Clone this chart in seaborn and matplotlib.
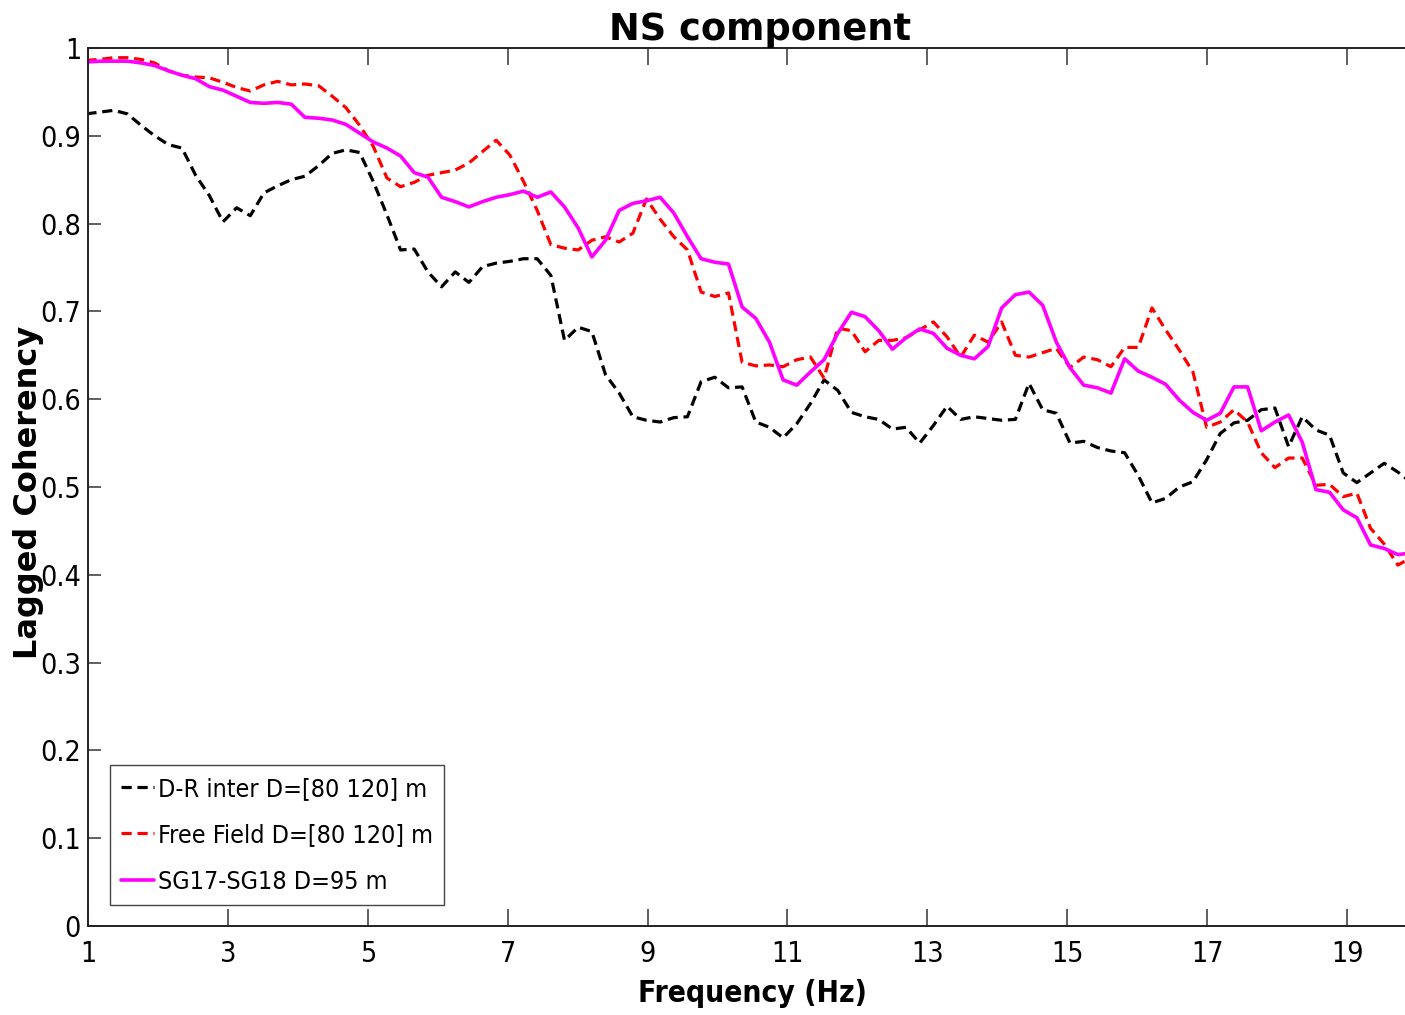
import numpy as np
import pandas as pd
import matplotlib
matplotlib.use("Agg")
import matplotlib.pyplot as plt
from matplotlib import font_manager
import seaborn as sns

# Frequency bins (Hz): FFT resolution of 100/512 Hz
freq_bins = np.arange(5, 103)
freq = freq_bins * (100 / 512)

dr_inter = [
    0.925, 0.927, 0.929, 0.925, 0.912, 0.900, 0.890, 0.886, 0.855, 0.832,
    0.802, 0.818, 0.809, 0.835, 0.843, 0.850, 0.854, 0.866, 0.880, 0.884,
    0.881, 0.848, 0.810, 0.770, 0.771, 0.745, 0.728, 0.745, 0.733, 0.751,
    0.755, 0.757, 0.760, 0.760, 0.741, 0.667, 0.682, 0.677, 0.628, 0.607,
    0.580, 0.576, 0.574, 0.579, 0.580, 0.620, 0.625, 0.613, 0.614, 0.574,
    0.568, 0.556, 0.572, 0.595, 0.622, 0.610, 0.585, 0.580, 0.577, 0.566,
    0.568, 0.550, 0.570, 0.592, 0.577, 0.580, 0.578, 0.576, 0.577, 0.618,
    0.588, 0.584, 0.550, 0.552, 0.545, 0.541, 0.539, 0.513, 0.482, 0.487,
    0.500, 0.506, 0.531, 0.561, 0.573, 0.576, 0.588, 0.590, 0.546, 0.580,
    0.565, 0.559, 0.516, 0.505, 0.516, 0.527, 0.517, 0.505,
]

free_field = [
    0.986, 0.987, 0.989, 0.989, 0.987, 0.983, 0.974, 0.969, 0.967, 0.966,
    0.961, 0.955, 0.951, 0.958, 0.962, 0.958, 0.959, 0.957, 0.945, 0.932,
    0.912, 0.888, 0.852, 0.842, 0.847, 0.855, 0.858, 0.861, 0.869, 0.882,
    0.895, 0.878, 0.848, 0.815, 0.776, 0.772, 0.770, 0.781, 0.785, 0.779,
    0.789, 0.828, 0.805, 0.785, 0.770, 0.722, 0.717, 0.721, 0.642, 0.638,
    0.639, 0.637, 0.645, 0.648, 0.624, 0.681, 0.678, 0.654, 0.667, 0.667,
    0.670, 0.679, 0.688, 0.671, 0.648, 0.673, 0.665, 0.688, 0.650, 0.648,
    0.653, 0.658, 0.636, 0.648, 0.645, 0.637, 0.659, 0.659, 0.704, 0.679,
    0.656, 0.631, 0.568, 0.574, 0.588, 0.574, 0.539, 0.522, 0.533, 0.533,
    0.502, 0.503, 0.489, 0.493, 0.453, 0.435, 0.411, 0.420,
]

sg17_sg18 = [
    0.984, 0.985, 0.985, 0.985, 0.983, 0.980, 0.974, 0.969, 0.965, 0.956,
    0.952, 0.945, 0.938, 0.937, 0.938, 0.936, 0.921, 0.920, 0.918, 0.913,
    0.903, 0.893, 0.886, 0.877, 0.858, 0.853, 0.830, 0.825, 0.819, 0.825,
    0.830, 0.833, 0.837, 0.830, 0.836, 0.819, 0.795, 0.762, 0.781, 0.815,
    0.823, 0.826, 0.830, 0.812, 0.785, 0.760, 0.756, 0.754, 0.705, 0.692,
    0.665, 0.622, 0.616, 0.631, 0.645, 0.675, 0.699, 0.694, 0.678, 0.657,
    0.670, 0.680, 0.675, 0.658, 0.650, 0.646, 0.660, 0.704, 0.719, 0.722,
    0.707, 0.665, 0.636, 0.616, 0.613, 0.607, 0.646, 0.632, 0.625, 0.617,
    0.599, 0.585, 0.576, 0.584, 0.614, 0.614, 0.564, 0.574, 0.582, 0.551,
    0.497, 0.494, 0.474, 0.465, 0.434, 0.430, 0.423, 0.425,
]

series_labels = ["D-R inter D=[80 120] m", "Free Field D=[80 120] m", "SG17-SG18 D=95 m"]
x_ticks = [1, 3, 5, 7, 9, 11, 13, 15, 17, 19]
y_ticks = [0, 0.1, 0.2, 0.3, 0.4, 0.5, 0.6, 0.7, 0.8, 0.9, 1]
y_tick_labels = ["0", "0.1", "0.2", "0.3", "0.4", "0.5", "0.6", "0.7", "0.8", "0.9", "1"]

df = pd.concat([
    pd.DataFrame({"Frequency": freq, "Coherency": vals, "Pair": lab})
    for vals, lab in zip([dr_inter, free_field, sg17_sg18], series_labels)
], ignore_index=True)

sns.set_style("white")
plt.rcParams["font.family"] = ["DejaVu Sans"]
for key in ["text.color", "axes.labelcolor", "xtick.color", "ytick.color"]:
    plt.rcParams[key] = "black"

# Condensed face for tick labels, legend and x label
narrow = font_manager.FontProperties(family="DejaVu Sans", stretch="condensed", size=20.5)
narrow_bold = font_manager.FontProperties(family="DejaVu Sans", stretch="condensed",
                                          weight="bold", size=21.5)
legend_font = font_manager.FontProperties(family="DejaVu Sans", stretch="condensed", size=18)

fig = plt.figure(figsize=(14.05, 10.15), dpi=100)
ax = fig.add_axes([88 / 1405, 89 / 1015, 1329 / 1405, 878 / 1015])

palette = {series_labels[0]: "black", series_labels[1]: "#ff0000", series_labels[2]: "#ff00ff"}
dashes = {series_labels[0]: (3.2, 1.8), series_labels[1]: (3.2, 1.8), series_labels[2]: ""}
sns.lineplot(data=df, x="Frequency", y="Coherency", hue="Pair", style="Pair",
             palette=palette, dashes=dashes, hue_order=series_labels,
             style_order=series_labels, estimator=None, sort=False,
             linewidth=2.3, legend=False, ax=ax)
lines = ax.get_lines()
lines[2].set_linewidth(2.6)

ax.set_xlim(1, 20)
ax.set_ylim(0, 1)
ax.set_xticks(x_ticks)
ax.set_xticklabels([str(t) for t in x_ticks], fontproperties=narrow)
ax.set_yticks(y_ticks)
ax.set_yticklabels(y_tick_labels, fontproperties=narrow)

for side in ["left", "right", "top", "bottom"]:
    ax.spines[side].set_visible(True)
    ax.spines[side].set_color("#222222")
    ax.spines[side].set_linewidth(1.4)

ax.tick_params(axis="x", direction="in", length=12, width=1.2, color="#444444",
               top=True, bottom=True, pad=10)
ax.tick_params(axis="y", direction="in", length=9, width=1.2, color="#444444",
               left=True, right=True, pad=5)

ax.set_title("NS component", fontsize=26.5, fontweight="bold", color="black",
             x=0.506, pad=6)
ax.set_xlabel("Frequency (Hz)", fontproperties=narrow_bold)
ax.xaxis.set_label_coords(0.5, -0.06)
ax.set_ylabel("Lagged Coherency", fontsize=23, fontweight="bold")
ax.yaxis.set_label_coords(-0.033, 0.494)

leg = ax.legend(lines, series_labels, loc="lower left",
                bbox_to_anchor=(0.0166, 0.024), borderaxespad=0,
                prop=legend_font, handlelength=1.3, handletextpad=0.15,
                labelspacing=0.9, borderpad=0.45, fancybox=False,
                framealpha=1, edgecolor="#444444")
leg.get_frame().set_linewidth(1.0)

fig.savefig("out.png", dpi=100)
